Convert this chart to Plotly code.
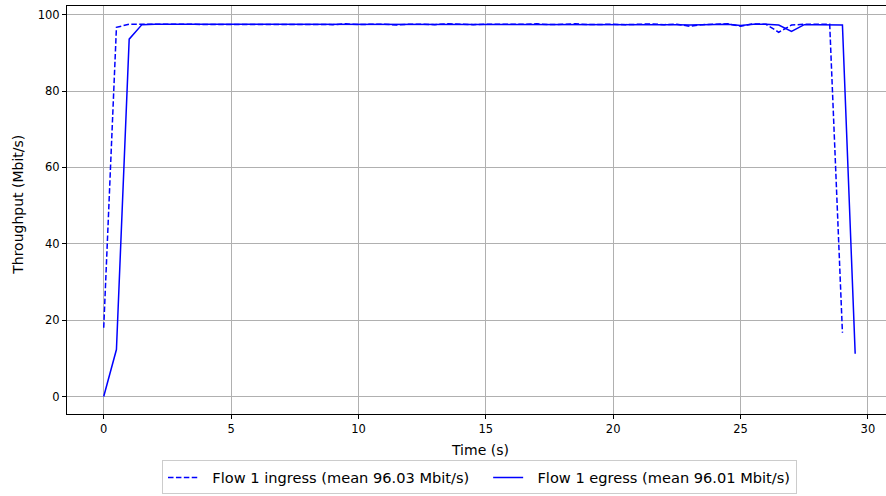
import plotly.graph_objects as go

# Time stamps (s)
time_egress = [0.0, 0.5, 1.0, 1.5, 2.0, 2.5, 3.0, 3.5, 4.0, 4.5,
               5.0, 5.5, 6.0, 6.5, 7.0, 7.5, 8.0, 8.5, 9.0, 9.5,
               10.0, 10.5, 11.0, 11.5, 12.0, 12.5, 13.0, 13.5, 14.0, 14.5,
               15.0, 15.5, 16.0, 16.5, 17.0, 17.5, 18.0, 18.5, 19.0, 19.5,
               20.0, 20.5, 21.0, 21.5, 22.0, 22.5, 23.0, 23.5, 24.0, 24.5,
               25.0, 25.5, 26.0, 26.5, 27.0, 27.5, 28.0, 28.5, 29.0, 29.5]
time_ingress = time_egress[:59]

# Throughput (Mbit/s)
ingress = [18.0, 96.7, 97.5, 97.5, 97.5, 97.4, 97.5, 97.5, 97.4, 97.5,
           97.5, 97.4, 97.5, 97.5, 97.5, 97.4, 97.5, 97.5, 97.4, 97.6,
           97.4, 97.5, 97.5, 97.3, 97.5, 97.5, 97.4, 97.6, 97.5, 97.4,
           97.5, 97.5, 97.4, 97.5, 97.6, 97.4, 97.5, 97.6, 97.4, 97.5,
           97.5, 97.4, 97.5, 97.6, 97.4, 97.5, 97.0, 97.4, 97.5, 97.6,
           97.0, 97.6, 97.5, 95.4, 97.3, 97.5, 97.5, 97.5, 16.7]
egress = [0.0, 12.3, 93.6, 97.4, 97.5, 97.5, 97.5, 97.4, 97.5, 97.5,
          97.5, 97.5, 97.4, 97.5, 97.5, 97.5, 97.4, 97.5, 97.5, 97.5,
          97.5, 97.4, 97.5, 97.5, 97.5, 97.5, 97.4, 97.5, 97.5, 97.5,
          97.5, 97.5, 97.4, 97.5, 97.5, 97.5, 97.5, 97.4, 97.5, 97.5,
          97.5, 97.5, 97.4, 97.5, 97.5, 97.4, 97.3, 97.4, 97.5, 97.5,
          97.2, 97.5, 97.5, 97.3, 95.6, 97.4, 97.4, 97.3, 97.3, 11.2]

ingress_name = "Flow 1 ingress (mean 96.03 Mbit/s)"
egress_name = "Flow 1 egress (mean 96.01 Mbit/s)"

x_ticks = [0, 5, 10, 15, 20, 25, 30]
y_ticks = [0, 20, 40, 60, 80, 100]

FONT = "DejaVu Sans"
NB = "\u00a0"

fig = go.Figure()
fig.add_trace(go.Scatter(x=time_ingress, y=ingress, mode="lines",
                         name=NB * 2 + ingress_name + NB * 3,
                         line=dict(color="#0000ff", width=1.5, dash="5.5px,2.4px")))
fig.add_trace(go.Scatter(x=time_egress, y=egress, mode="lines",
                         name=NB * 2 + egress_name,
                         line=dict(color="#0000ff", width=1.5)))

fig.update_layout(
    width=886, height=496,
    margin=dict(l=67, r=0, t=6, b=81.5, autoexpand=False),
    paper_bgcolor="white", plot_bgcolor="white",
    font=dict(family=FONT, color="black", size=12),
    showlegend=True,
    legend=dict(orientation="h", x=0.5037, xanchor="center", y=-0.1138, yanchor="top",
                bordercolor="#cccccc", borderwidth=1, font=dict(size=14.6, family=FONT),
                itemwidth=30, tracegroupgap=0),
    xaxis=dict(range=[-1.441, 30.71], tickvals=x_ticks, ticks="outside", ticklen=4,
               tickcolor="black", showline=True, linecolor="black", linewidth=1, mirror=True,
               showgrid=True, gridcolor="#b0b0b0", gridwidth=1, zeroline=False,
               tickfont=dict(size=11.5), automargin=False),
    yaxis=dict(range=[-4.58, 102.28], tickvals=y_ticks, ticks="outside", ticklen=4,
               tickcolor="black", showline=True, linecolor="black", linewidth=1,
               showgrid=True, gridcolor="#b0b0b0", gridwidth=1, zeroline=False,
               tickfont=dict(size=11.5), automargin=False),
    annotations=[
        dict(text="Time (s)", x=0.5043, y=-0.0894, xref="paper", yref="paper",
             xanchor="center", yanchor="middle", showarrow=False, font=dict(size=14)),
        dict(text="Throughput (Mbit/s)", x=-0.0592, y=0.5116, xref="paper", yref="paper",
             xanchor="center", yanchor="middle", showarrow=False, textangle=-90,
             font=dict(size=14)),
    ],
)

fig.write_html(
    "out.html",
    config={"displayModeBar": False},
    post_script="document.body.style.margin='0';document.body.style.overflow='hidden';",
)
